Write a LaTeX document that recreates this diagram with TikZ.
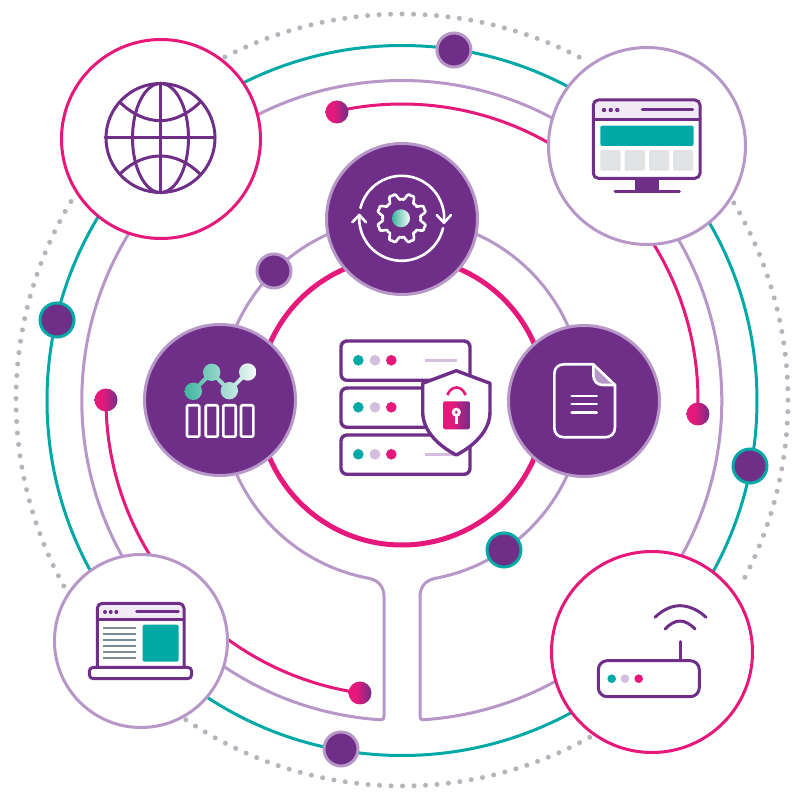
\documentclass[tikz,border=0pt]{standalone}
\definecolor{purp}{HTML}{6F2F88}
\definecolor{lilac}{HTML}{B797C8}
\definecolor{lilacl}{HTML}{D3BEDE}
\definecolor{headf}{HTML}{F1E9F4}
\definecolor{teal2}{HTML}{00A9A6}
\definecolor{pink2}{HTML}{E6187B}
\definecolor{grayd}{HTML}{B2B6BB}
\definecolor{grayb}{HTML}{E2E3E5}
\definecolor{grayl}{HTML}{7C8B93}
\definecolor{mintd}{HTML}{3FB6A0}
\definecolor{mintl}{HTML}{F6FAFA}
\pgfdeclarehorizontalshading{pinkpurple}{100bp}{color(0bp)=(pink2);color(25bp)=(pink2);color(42bp)=(pink2);color(75bp)=(purp);color(100bp)=(purp)}
\pgfdeclarehorizontalshading{mintfade}{100bp}{color(0bp)=(mintd);color(25bp)=(mintd);color(75bp)=(mintl);color(100bp)=(mintl)}
\tikzset{
  bigpink/.style={circle,inner sep=0pt,outer sep=0pt,draw=pink2,line width=1.5pt,fill=white},
  biglilac/.style={circle,inner sep=0pt,outer sep=0pt,draw=lilac,line width=1.5pt,fill=white},
  hub/.style={circle,inner sep=0pt,outer sep=0pt,draw=lilac,line width=1.5pt,fill=purp,minimum size=75.5pt},
  dotl/.style={circle,inner sep=0pt,outer sep=0pt,draw=lilac,line width=1.5pt,fill=purp,minimum size=17pt},
  dott/.style={circle,inner sep=0pt,outer sep=0pt,draw=teal2,line width=1.5pt,fill=purp,minimum size=17pt},
  pdot/.style={circle,inner sep=0pt,outer sep=0pt,minimum size=11.5pt,shade,shading=pinkpurple},
  tealline/.style={draw=teal2,line width=1.5pt},
  lilacline/.style={draw=lilac,line width=1.5pt,line join=round},
  pinkline/.style={draw=pink2,line width=1.5pt},
  dotted ring/.style={draw=grayd,line width=2.5pt,line cap=round,dash pattern=on 0pt off 5.75pt},
  ico/.style={draw=purp,line width=1.5pt,line join=round,line cap=round},
  icw/.style={draw=white,line width=1.3pt,line join=round,line cap=round},
  srv/.style={draw=purp,line width=1.7pt,rounded corners=3pt,fill=white},
}
\newcommand{\ringarc}[4]{\draw[#1] (402,400) ++(#3:#2) arc[start angle=#3,end angle=#4,radius=#2];}
\begin{document}
\begin{tikzpicture}[x=.5pt,y=.5pt]
\useasboundingbox (0,0) rectangle (800,800);
\fill[white] (0,0) rectangle (800,800);
\begin{scope}[shift={(0,800)},yscale=-1]
% dotted outer ring
\ringarc{dotted ring}{386}{-117.3}{-62.4}
\ringarc{dotted ring}{386}{-30.7}{28}
\ringarc{dotted ring}{386}{60.9}{124.8}
\ringarc{dotted ring}{386}{151.2}{211.1}
% teal ring
\draw[tealline] (402,400.5) circle[radius=355];
% lilac closed outline
\draw[lilacline] (384,716) -- (384,597) .. controls (384,587) and (379,581) .. (370,578.5)
  arc[start angle=100.2,end angle=439.8,radius=181.5]
  .. controls (425,581) and (420,587) .. (420,597) -- (420,716) .. controls (420,719) and (421,720) .. (423,719.8)
  arc[start angle=86.2,end angle=-266.2,radius=320]
  .. controls (383,720) and (384,719) .. (384,716) -- cycle;
% pink arcs
\ringarc{pinkline}{296}{-102.7}{-55}
\ringarc{pinkline}{296}{-40}{2.7}
\ringarc{pinkline}{296}{180}{140}
\ringarc{pinkline}{296}{130}{98.2}
\draw[draw=pink2,line width=2.5pt] (402,401) circle[radius=144];
% large circles
\node[bigpink,minimum size=99.5pt] (globe) at (161,139) {};
\node[biglilac,minimum size=98.5pt] (browser) at (647,146) {};
\node[biglilac,minimum size=86.5pt] (laptop) at (141,641) {};
\node[bigpink,minimum size=100.5pt] (router) at (652,652) {};
\node[hub] (gear) at (402,219) {};
\node[hub] (chart) at (220,400) {};
\node[hub] (doc) at (584,401) {};
% dots
\node[dotl] (d1) at (454,50) {};
\node[dotl] (d2) at (274,271) {};
\node[dott] (d3) at (57,320) {};
\node[dott] (d4) at (750,466) {};
\node[dott] (d5) at (504,550) {};
\node[dotl] (d6) at (341,749) {};
\node[pdot] (p1) at (337,112) {};
\node[pdot] (p2) at (106,400) {};
\node[pdot] (p3) at (698,414) {};
\node[pdot] (p4) at (360,693) {};
% globe icon
\begin{scope}[ico]
\draw (160.5,138) circle[radius=54.5];
\draw (160.5,138) ellipse[x radius=28,y radius=54.5];
\draw (160.5,83) -- (160.5,193);
\draw (105,138) -- (215,138);
\draw (120,102.3) .. controls (132,114) and (146,120.7) .. (160.5,120.7) .. controls (174,120.7) and (188,114) .. (200,102.3);
\draw (120,174) .. controls (132,162) and (146,156) .. (160.5,156) .. controls (174,156) and (188,162) .. (200,174);
\end{scope}
% monitor icon
\fill[purp] (635,178) rectangle (659.3,190.7);
\draw[ico] (615,191.3) -- (679.3,191.3);
\path[fill=headf] (594,119.3) -- (594,105) [rounded corners=2.5pt] -- (594,100.5) -- (699,100.5) -- (699,119.3) -- cycle;
\draw[ico,rounded corners=2.5pt] (593.3,100) rectangle (700,178.3);
\draw[ico] (593.3,119.3) -- (700,119.3);
\foreach \x in {604,610.7,617.3} \fill[purp] (\x,110) circle[radius=2.2];
\draw[ico] (642.3,110) -- (692.7,110);
\fill[teal2,rounded corners=1pt] (600.3,125.7) rectangle (693.7,146);
\foreach \x/\y in {600.3/620.7,624.7/645,649/669.3,673/693.3} \fill[grayb,rounded corners=1pt] (\x,150) rectangle (\y,170.7);
% laptop icon
\path[fill=headf,rounded corners=2.5pt] (98,604) rectangle (183,619.3);
\draw[ico,rounded corners=2.5pt] (97.3,667) -- (97.3,603.3) -- (184,603.3) -- (184,667);
\draw[ico] (97.3,619.3) -- (184,619.3);
\foreach \x in {105,110.7,116.3} \fill[purp] (\x,612) circle[radius=2];
\draw[ico] (136.7,612) -- (178.3,612);
\foreach \y in {628.3,634.3,640.3,646,652,658} \draw[grayl,line width=.8pt] (103.3,\y) -- (136,\y);
\fill[teal2,rounded corners=1pt] (142.7,624.7) rectangle (178.7,661.7);
\draw[ico,fill=white,rounded corners=2pt] (89.3,667.3) rectangle (191.7,678.7);
% router icon
\draw[ico,rounded corners=4.5pt] (598.3,660.7) rectangle (699.3,696.7);
\fill[teal2] (611.7,678.7) circle[radius=4.3];
\fill[lilacl] (625,678.7) circle[radius=4.3];
\fill[pink2] (638.7,678.7) circle[radius=4.3];
\draw[ico] (680,641.7) -- (680,660.7);
\draw[ico] (655,617.3) .. controls (663,609.5) and (672,605.7) .. (680,605.7) .. controls (688,605.7) and (698,609.5) .. (706,617.3);
\draw[ico] (665.3,629) .. controls (669,624.5) and (675,621) .. (680,621) .. controls (685,621) and (691,624.5) .. (695,629);
% gear icon
\draw[icw] plot[domain=0:360,samples=145,smooth] ({401.7+(21.8+3.4*(cos(8*\x-180)-cos(3*(8*\x-180))/4))*cos(\x)},{218.3+(21.8+3.4*(cos(8*\x-180)-cos(3*(8*\x-180))/4))*sin(\x)}) -- cycle;
\shade[shading=mintfade] (401,218.3) circle[radius=9];
\draw[icw] (401.7,218.3) ++(194:42.5) arc[start angle=194,end angle=364.5,radius=42.5];
\draw[icw] (401.7,218.3) ++(13.5:42.5) arc[start angle=13.5,end angle=184,radius=42.5];
\draw[icw] (436.7,215) -- (444,222.7) -- (451,215);
\draw[icw] (352.3,222.3) -- (359.3,215) -- (366,222.3);
% chart icon
\begin{scope}
\clip (193.3,391.3) circle[radius=8.7] (211.7,372.3) circle[radius=8.7] (229.3,390.7) circle[radius=8.7] (247.7,372) circle[radius=8.7]
  (191.86,389.91) -- (210.26,370.91) -- (213.14,373.69) -- (194.74,392.69) -- cycle
  (213.15,370.92) -- (230.75,389.32) -- (227.85,392.08) -- (210.25,373.68) -- cycle
  (227.87,389.3) -- (246.27,370.6) -- (249.13,373.4) -- (230.73,392.1) -- cycle;
\shade[shading=mintfade] (184.6,362) rectangle (256.4,401);
\end{scope}
\foreach \a/\b in {187/199.3,205.7/217.7,223.3/235.7,241/253.3}
  \draw[icw,rounded corners=.6pt] (\a,405.3) rectangle (\b,436.7);
% document icon
\fill[lilac] (593.3,364.3) -- (615,385) -- (603,385) .. controls (597,385) and (593.3,381) .. (593.3,375) -- cycle;
\draw[icw] (593.3,364.3) -- (564.3,364.3) .. controls (558,364.3) and (554.3,368) .. (554.3,374.3) -- (554.3,427.3) .. controls (554.3,433.5) and (558,437.3) .. (564.3,437.3) -- (605,437.3) .. controls (611,437.3) and (615,433.5) .. (615,427.3) -- (615,385) -- cycle;
\draw[icw] (593.3,364.3) -- (593.3,375) .. controls (593.3,381) and (597,385) .. (603,385) -- (615,385);
\foreach \y in {396,404,412.7} \draw[icw] (571.7,\y) -- (596.7,\y);
% server icon
\foreach \t in {341,388,435}{
  \draw[srv] (341,\t) rectangle (470,\t+39.3);
  \fill[teal2] (358.3,\t+19.3) circle[radius=5.3];
  \fill[lilacl] (375,\t+19.3) circle[radius=5.3];
  \fill[pink2] (391.3,\t+19.3) circle[radius=5.3];
}
\draw[lilacl,line width=1.3pt] (425,360.3) -- (456.7,360.3);
\draw[lilacl,line width=1.3pt] (425,454.3) -- (456.7,454.3);
% shield
\draw[draw=purp,line width=1.7pt,fill=white,line join=round] (456.3,370.7) -- (490,383.3) -- (490,412) .. controls (490,432) and (472,447) .. (456.3,455) .. controls (440.6,447) and (422.7,432) .. (422.7,412) -- (422.7,383.3) -- cycle;
\draw[pink2,line width=1.3pt] (447.3,395) .. controls (449.5,390) and (453,387.5) .. (456.5,387.5) .. controls (460,387.5) and (463.5,390) .. (465.7,395);
\shade[shading=pinkpurple,rounded corners=.8pt] (443,401.3) rectangle (470,429.3);
\draw[white,line width=1.2pt] (456.3,416) -- (456.3,424);
\fill[white] (456.3,412.3) circle[radius=4.6];
\fill[pink2!70!purp] (456.3,412.3) circle[radius=1.6];
\end{scope}
\end{tikzpicture}
\end{document}
